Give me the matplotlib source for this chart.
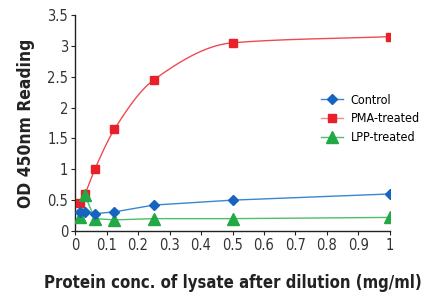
import numpy as np
import matplotlib
matplotlib.use("Agg")
import matplotlib.pyplot as plt
from matplotlib.lines import Line2D

plt.rcParams['font.family'] = ['DejaVu Sans']
plt.rcParams['font.stretch'] = 'condensed'

conc = [0.0156, 0.031, 0.0625, 0.125, 0.25, 0.5, 1.0]
control = [0.30, 0.31, 0.28, 0.31, 0.42, 0.50, 0.60]
pma = [0.45, 0.60, 1.00, 1.65, 2.45, 3.05, 3.15]
lpp = [0.22, 0.58, 0.20, 0.18, 0.20, 0.20, 0.22]
xticks = [0, 0.1, 0.2, 0.3, 0.4, 0.5, 0.6, 0.7, 0.8, 0.9, 1]
yticks = [0, 0.5, 1, 1.5, 2, 2.5, 3, 3.5]


def pchip(x, y, xn):
    x = np.asarray(x, float); y = np.asarray(y, float)
    h = np.diff(x); d = np.diff(y) / h
    m = np.zeros_like(y)
    for k in range(1, len(x) - 1):
        if d[k - 1] * d[k] > 0:
            w1 = 2 * h[k] + h[k - 1]; w2 = h[k] + 2 * h[k - 1]
            m[k] = (w1 + w2) / (w1 / d[k - 1] + w2 / d[k])
    m[0] = d[0]; m[-1] = d[-1]
    idx = np.clip(np.searchsorted(x, xn) - 1, 0, len(h) - 1)
    t = (xn - x[idx]) / h[idx]
    h00 = 2 * t**3 - 3 * t**2 + 1; h10 = t**3 - 2 * t**2 + t
    h01 = -2 * t**3 + 3 * t**2; h11 = t**3 - t**2
    return h00 * y[idx] + h10 * h[idx] * m[idx] + h01 * y[idx + 1] + h11 * h[idx] * m[idx + 1]


fig = plt.figure(figsize=(4.27, 2.95), dpi=100)
ax = fig.add_axes([0.176, 0.217, 0.737, 0.732])

xs = np.linspace(conc[0], conc[-1], 400)
blue, red, green = '#1565c0', '#e8202a', '#22a845'

ax.plot(conc, control, color='#3a86d0', lw=1.0, zorder=2)
ax.plot(conc, lpp, color='#4cc06a', lw=1.0, zorder=2)
ax.plot(xs, pchip(conc, pma, xs), color='#f04a50', lw=1.0, zorder=2)

ax.plot(conc, control, ls='none', marker='D', ms=5, color=blue, zorder=4)
ax.plot(conc, pma, ls='none', marker='s', ms=6, color=red, zorder=3)
ax.plot(conc, lpp, ls='none', marker='^', ms=9, color=green, zorder=3)

handles = [
    Line2D([], [], color='#3a86d0', lw=1.0, marker='D', ms=5, mfc=blue, mec=blue),
    Line2D([], [], color='#f08a8a', lw=1.0, marker='s', ms=6, mfc=red, mec=red),
    Line2D([], [], color='#4cc06a', lw=1.0, marker='^', ms=8, mfc=green, mec=green),
]
ax.legend(handles, ['Control', 'PMA-treated', 'LPP-treated'], frameon=False,
          loc='upper left', bbox_to_anchor=(0.76, 0.665), fontsize=9,
          handlelength=1.8, labelspacing=0.45, borderpad=0, handletextpad=0.6)

ax.set_xlim(0, 1)
ax.set_ylim(0, 3.5)
ax.set_xticks(xticks)
ax.set_xticklabels([f"{v:g}" for v in xticks])
ax.set_yticks(yticks)
ax.set_yticklabels([f"{v:g}" for v in yticks])
for s in ['top', 'right']:
    ax.spines[s].set_visible(False)
for s in ['left', 'bottom']:
    ax.spines[s].set_linewidth(1.0)
    ax.spines[s].set_color('#222222')
ax.tick_params(labelsize=10.5, length=3, width=0.8, colors='#222222', labelcolor='#333333', pad=2)

ax.set_xlabel('Protein conc. of lysate after dilution (mg/ml)', fontsize=12,
              fontweight='bold', labelpad=15, color='#222222')
ax.set_ylabel('OD 450nm Reading', fontsize=12.5, fontweight='bold', labelpad=9, color='#222222')

fig.savefig('out.png', dpi=100)
